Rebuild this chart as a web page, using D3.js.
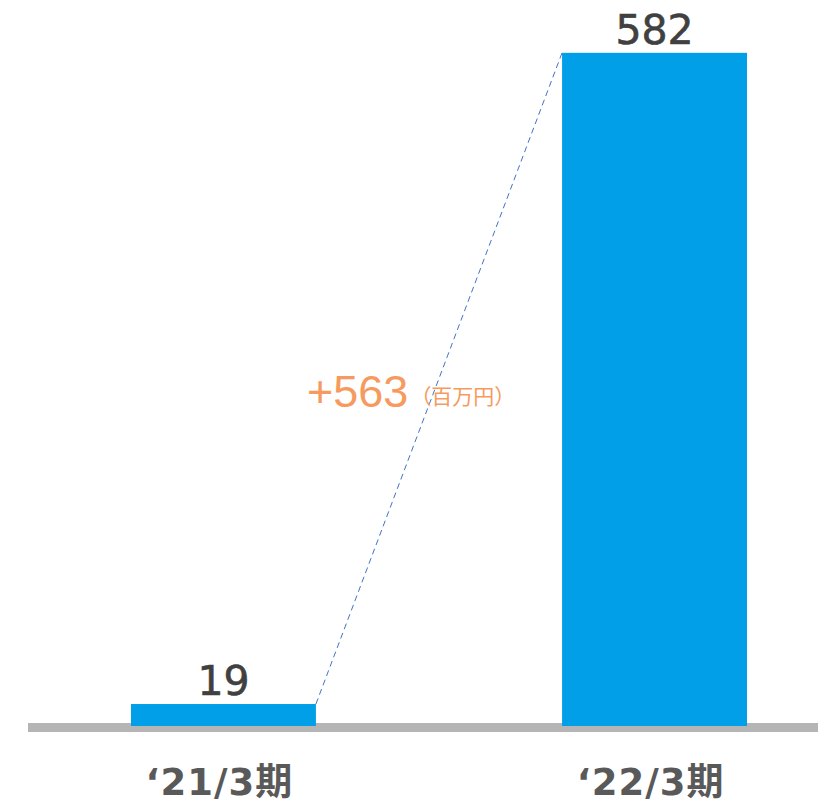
<!DOCTYPE html>
<html>
<head>
<meta charset="utf-8">
<script src="https://cdn.jsdelivr.net/npm/d3@7"></script>
<style>
  body { margin: 0; background: #fff; }
  text { font-family: "DejaVu Sans", "Noto Sans CJK JP", sans-serif; }
</style>
</head>
<body>
<div id="chart"></div>
<script>
// data
const periods = ["\u201821/3期", "\u201822/3期"];
const values = [19, 582];
const diffLabel = "+563";
const unitLabel = "（百万円）";

const width = 818, height = 803;

const svg = d3.select("#chart").append("svg")
    .attr("width", width)
    .attr("height", height);

// scales
const x = d3.scaleBand()
    .domain(periods)
    .range([131, 747])
    .paddingInner(0.571)
    .paddingOuter(0);

const y = d3.scaleLinear()
    .domain([0, 600])
    .range([726, 32]);

// baseline
svg.append("rect")
    .attr("x", 28)
    .attr("y", 723)
    .attr("width", width - 28)
    .attr("height", 9)
    .attr("fill", "#b5b5b5");

// bars
svg.selectAll(".bar")
    .data(values)
    .enter().append("rect")
    .attr("class", "bar")
    .attr("x", (d, i) => x(periods[i]))
    .attr("y", d => y(d))
    .attr("width", x.bandwidth())
    .attr("height", d => y(0) - y(d))
    .attr("fill", "#009fe8");

// value labels
svg.selectAll(".val")
    .data(values)
    .enter().append("text")
    .attr("class", "val")
    .attr("x", (d, i) => x(periods[i]) + x.bandwidth() / 2)
    .attr("y", d => y(d) - 9)
    .attr("text-anchor", "middle")
    .attr("font-size", 41)
    .attr("fill", "#404040")
    .attr("stroke", "#404040")
    .attr("stroke-width", 0.6)
    .text(d => d);

// dashed connector
svg.append("line")
    .attr("x1", x(periods[0]) + x.bandwidth())
    .attr("y1", y(values[0]))
    .attr("x2", x(periods[1]))
    .attr("y2", y(values[1]))
    .attr("stroke", "#4472c4")
    .attr("stroke-width", 1)
    .attr("stroke-dasharray", "6,4");

// difference annotation
const ann = svg.append("text")
    .attr("x", 307)
    .attr("y", 407)
    .attr("fill", "#f79a5e")
    .style("font-family", "'Liberation Sans', Arial, 'Noto Sans CJK JP', sans-serif");
ann.append("tspan")
    .attr("font-size", 45)
    .text(diffLabel);
ann.append("tspan")
    .attr("font-size", 21)
    .attr("dx", 2)
    .attr("dy", -3)
    .text(unitLabel);

// x labels
svg.selectAll(".xlab")
    .data(periods)
    .enter().append("text")
    .attr("class", "xlab")
    .attr("x", d => x(d) + x.bandwidth() / 2 - 4)
    .attr("y", 795)
    .attr("text-anchor", "middle")
    .attr("font-size", 37)
    .attr("font-weight", "bold")
    .attr("letter-spacing", 1)
    .attr("fill", "#595959")
    .text(d => d);
</script>
</body>
</html>
